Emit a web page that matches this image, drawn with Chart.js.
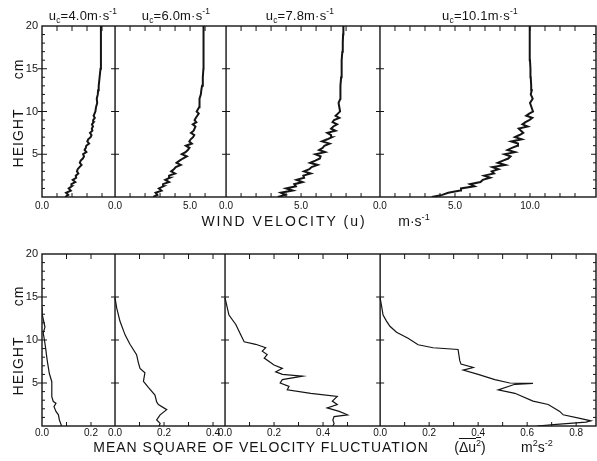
<!DOCTYPE html>
<html>
<head>
<meta charset="utf-8">
<script src="https://cdn.jsdelivr.net/npm/chart.js@4.4.1/dist/chart.umd.min.js"></script>
<style>
  html, body { margin: 0; padding: 0; background: #fff; }
  #wrap { position: relative; width: 597px; height: 461px; overflow: hidden;
          font-family: "Liberation Sans", Arial, sans-serif; color: #141414; }
  canvas { position: absolute; left: 0; }
  #topChart { top: 0; }
  #botChart { top: 230px; }
  .lbl { position: absolute; white-space: nowrap; line-height: 1; transform: translate(-50%, -50%); }
  .rot { transform: translate(-50%, -50%) rotate(-90deg); }
  .uc { font-size: 13px; letter-spacing: 0.2px; }
  .ttl { font-size: 14px; }
  .side { font-size: 14px; letter-spacing: 1px; }
  sub, sup { font-size: 65%; line-height: 0; }
  .ovl { text-decoration: overline; }
</style>
</head>
<body>
<div id="wrap">
  <canvas id="topChart" width="597" height="230"></canvas>
  <canvas id="botChart" width="597" height="231"></canvas>

  <div class="lbl uc" style="left:83px; top:15px;">u<sub>c</sub>=4.0m·s<sup>-1</sup></div>
  <div class="lbl uc" style="left:176px; top:15px;">u<sub>c</sub>=6.0m·s<sup>-1</sup></div>
  <div class="lbl uc" style="left:300px; top:15px;">u<sub>c</sub>=7.8m·s<sup>-1</sup></div>
  <div class="lbl uc" style="left:480px; top:15px;">u<sub>c</sub>=10.1m·s<sup>-1</sup></div>

  <div class="lbl side rot" style="left:18px; top:138px;">HEIGHT</div>
  <div class="lbl side rot" style="left:18px; top:69px;">cm</div>
  <div class="lbl side rot" style="left:18px; top:366px;">HEIGHT</div>
  <div class="lbl side rot" style="left:18px; top:296px;">cm</div>

  <div class="lbl ttl" style="left:284px; top:221px; letter-spacing:2px;">WIND VELOCITY (u)</div>
  <div class="lbl ttl" style="left:414px; top:221px;">m·s<sup>-1</sup></div>
  <div class="lbl ttl" style="left:261px; top:447px; letter-spacing:1px;">MEAN SQUARE OF VELOCITY FLUCTUATION</div>
  <div class="lbl ttl" style="left:470px; top:447px;">(<span class="ovl">Δu<sup>2</sup></span>)</div>
  <div class="lbl ttl" style="left:537px; top:447px;">m<sup>2</sup>s<sup>-2</sup></div>
</div>

<script>
// alturas (cm) dos perfis de velocidade média
const windHeights = [0, 0.25, 0.5, 0.75, 1, 1.25, 1.5, 1.75, 2, 2.25, 2.5, 2.75, 3, 3.25, 3.5, 3.75,
  4, 4.25, 4.5, 4.75, 5, 5.25, 5.5, 5.75, 6, 6.25, 6.5, 6.75, 7, 7.25, 7.5, 7.75, 8, 8.25, 8.5, 8.75,
  9, 9.25, 9.5, 9.75, 10, 10.5, 11, 11.5, 12, 12.5, 13, 14, 15, 16, 17, 18, 19, 20];

// velocidade u (m/s) para cada u_c
const wind40 = [1.55, 1.75, 1.6, 1.92, 1.78, 1.98, 1.96, 2.22, 2.05, 2.28, 2.25, 2.42, 2.33, 2.38, 2.5, 2.64,
  2.52, 2.58, 2.72, 2.8, 2.74, 2.96, 2.84, 2.92, 2.95, 3.14, 3.02, 3.08, 3.24, 3.3, 3.2, 3.36, 3.32, 3.4,
  3.33, 3.44, 3.41, 3.52, 3.44, 3.5, 3.56, 3.6, 3.68, 3.65, 3.72, 3.74, 3.78, 3.84, 3.9, 3.92, 3.93, 3.93, 3.93, 3.93];
const wind60 = [2.55, 2.82, 2.7, 3.1, 2.92, 3.22, 3.2, 3.6, 3.35, 3.66, 3.6, 4.0, 3.74, 3.92, 4.05, 4.38,
  4.1, 4.3, 4.52, 4.78, 4.45, 4.7, 4.85, 4.96, 4.72, 5.12, 4.95, 5.04, 5.2, 5.28, 5.06, 5.24, 5.3, 5.36,
  5.18, 5.42, 5.3, 5.38, 5.48, 5.58, 5.44, 5.6, 5.66, 5.6, 5.72, 5.75, 5.8, 5.85, 5.89, 5.89, 5.9, 5.9, 5.9, 5.9];
const wind78 = [3.45, 3.95, 3.65, 4.45, 4.0, 4.65, 4.55, 5.1, 4.7, 5.2, 5.15, 5.65, 5.2, 5.55, 5.7, 6.1,
  5.6, 5.95, 6.25, 6.3, 5.95, 6.6, 6.2, 6.45, 6.55, 6.9, 6.4, 6.75, 7.05, 7.0, 6.75, 7.3, 7.0, 7.15,
  7.4, 7.1, 7.2, 7.55, 7.3, 7.45, 7.6, 7.55, 7.5, 7.62, 7.6, 7.63, 7.64, 7.67, 7.69, 7.72, 7.75, 7.78, 7.8, 7.82];
const wind101 = [3.45, 4.15, 4.55, 5.35, 5.4, 6.3, 6.0, 6.7, 6.85, 7.35, 6.95, 7.6, 7.45, 7.9, 7.5, 8.35,
  7.85, 8.2, 8.55, 8.7, 8.3, 9.0, 8.5, 8.8, 9.15, 9.2, 8.75, 9.45, 9.0, 9.3, 9.55, 9.4, 9.25, 9.85,
  9.5, 9.7, 9.95, 10.15, 9.75, 9.95, 10.2, 10.1, 10.0, 10.18, 10.05, 10.12, 10.08, 10.05, 10.03, 10.0, 9.99, 9.98, 9.98, 9.98];

// flutuação quadrática média (m2/s2): alturas e valores de cada perfil
const msq40H = [13.8, 13.1, 11.5, 10.8, 10.0, 8.8, 8.1, 7.3, 6.1, 5.15, 4.6, 3.4, 2.85, 2.65, 2.25, 1.7, 1.3, 0.7, 0.3, 0];
const msq40 = [0, 0, 0.012, 0.005, 0.01, 0.016, 0.019, 0.023, 0.03, 0.04, 0.04, 0.04, 0.046, 0.057, 0.049, 0.057, 0.067, 0.071, 0.076, 0.08];
const msq60H = [14.9, 13.7, 12.2, 10.6, 9.5, 8.3, 7.4, 6.7, 6.2, 5.2, 4.5, 3.6, 2.8, 2.5, 1.9, 1.3, 0.7, 0.3, 0];
const msq60 = [0, 0.007, 0.02, 0.041, 0.061, 0.088, 0.095, 0.102, 0.122, 0.116, 0.136, 0.163, 0.17, 0.177, 0.211, 0.184, 0.17, 0.184, 0.18];
const msq78H = [14.9, 12.9, 11.8, 10.6, 9.8, 9.5, 9.1, 8.7, 8.3, 7.9, 7.1, 6.7, 6.3, 6.0, 5.8, 5.4, 5.0, 4.6, 4.2,
  3.8, 3.45, 2.9, 2.5, 2.1, 1.7, 1.3, 1.1, 0.7, 0.3, 0];
const msq78 = [0, 0.016, 0.044, 0.064, 0.078, 0.125, 0.166, 0.152, 0.172, 0.16, 0.2, 0.234, 0.207, 0.234, 0.316, 0.234,
  0.225, 0.261, 0.254, 0.35, 0.458, 0.438, 0.458, 0.417, 0.466, 0.5, 0.445, 0.44, 0.445, 0.44];
const msq101H = [14.9, 14.1, 12.9, 12.2, 11.6, 10.9, 10.2, 9.45, 9.1, 8.9, 7.6, 7.2, 6.8, 6.5, 6.0, 5.4, 5.0, 4.95,
  4.85, 4.2, 3.8, 2.9, 2.5, 1.7, 1.3, 0.85, 0.6, 0.45, 0.2, 0];
const msq101 = [0, 0.005, 0.012, 0.026, 0.04, 0.067, 0.114, 0.155, 0.216, 0.318, 0.325, 0.33, 0.38, 0.339, 0.4, 0.468,
  0.529, 0.624, 0.55, 0.482, 0.55, 0.624, 0.686, 0.733, 0.747, 0.82, 0.86, 0.84, 0.72, 0.64];

// rótulos do eixo x (valores locais de cada painel)
const windTicks = [[0], [0, 5], [0, 5], [0, 5, 10]];
const msqTicks = [[0, 0.2], [0, 0.2, 0.4], [0, 0.2, 0.4], [0, 0.2, 0.4, 0.6, 0.8]];

// início de cada painel no eixo contínuo
const windStarts = [0, 4.87, 12.27, 22.53];
const msqStarts = [0, 0.298, 0.747, 1.38];

const FONT = "'Liberation Sans', Arial, sans-serif";
const INK = '#141414';

// moldura, divisórias e marcas internas
const frameTicks = {
  id: 'frameTicks',
  afterDatasetsDraw(chart, args, o) {
    const { ctx, chartArea: a } = chart;
    const x = chart.scales.x, y = chart.scales.y;
    const seg = (x1, y1, x2, y2) => { ctx.beginPath(); ctx.moveTo(x1, y1); ctx.lineTo(x2, y2); ctx.stroke(); };
    ctx.save();
    ctx.strokeStyle = INK;
    ctx.lineWidth = 1.4;
    ctx.strokeRect(a.left, a.top, a.right - a.left, a.bottom - a.top);
    o.starts.forEach((s, i) => {
      const px = x.getPixelForValue(s);
      ctx.lineWidth = 1.4;
      if (i > 0) seg(px, a.top, px, a.bottom);
      const end = i < o.starts.length - 1 ? o.starts[i + 1] : x.max;
      ctx.lineWidth = 1;
      for (let k = 1; s + k * o.step < end - o.step * 0.4; k++) {
        const tx = x.getPixelForValue(s + k * o.step);
        seg(tx, a.top, tx, a.top + 5);
        seg(tx, a.bottom, tx, a.bottom - 4);
      }
    });
    ctx.lineWidth = 1;
    for (let h = 1; h < 20; h++) {
      const py = y.getPixelForValue(h);
      const major = h % 5 === 0;
      seg(a.left - (major ? 4 : 0), py, a.left + (major ? 5 : 3), py);
      seg(a.right - (major ? 5 : 3), py, a.right, py);
      if (major) {
        o.starts.slice(1).forEach(s => {
          const px = x.getPixelForValue(s);
          seg(px - 4, py, px + 4, py);
        });
      }
    }
    ctx.restore();
  }
};

function makeChart(id, cfg) {
  const tickVals = [], tickText = [];
  cfg.ticks.forEach((list, p) => list.forEach(v => {
    tickVals.push(cfg.starts[p] + v);
    tickText.push(v.toFixed(1));
  }));

  return new Chart(document.getElementById(id), {
    type: 'line',
    data: {
      datasets: cfg.series.map((s, p) => ({
        data: s.h.map((h, i) => ({ x: cfg.starts[p] + s.v[i], y: h })),
        borderColor: INK,
        borderWidth: cfg.lineWidth,
        pointRadius: 0,
        tension: 0,
        fill: false
      }))
    },
    options: {
      responsive: false,
      animation: false,
      events: [],
      layout: { padding: { top: cfg.padTop, right: 1, left: 0, bottom: 0 } },
      plugins: {
        legend: { display: false },
        tooltip: { enabled: false },
        frameTicks: { starts: cfg.starts, step: cfg.step }
      },
      scales: {
        x: {
          type: 'linear', min: 0, max: cfg.xMax,
          grid: { display: false, drawTicks: false }, border: { display: false },
          afterBuildTicks: s => { s.ticks = tickVals.map(v => ({ value: v })); },
          afterFit: s => { s.height = cfg.xHeight; },
          ticks: {
            autoSkip: false, maxRotation: 0, padding: cfg.tickPad, color: INK,
            font: { family: FONT, size: 10 },
            callback: (v, i) => tickText[i]
          }
        },
        y: {
          type: 'linear', min: 0, max: 20,
          grid: { display: false, drawTicks: false }, border: { display: false },
          afterFit: s => { s.width = 42; },
          ticks: {
            stepSize: 5, padding: 4, color: INK,
            font: { family: FONT, size: 11 },
            callback: v => v === 0 ? '' : v
          }
        }
      }
    },
    plugins: [frameTicks]
  });
}

makeChart('topChart', {
  series: [
    { h: windHeights, v: wind40 },
    { h: windHeights, v: wind60 },
    { h: windHeights, v: wind78 },
    { h: windHeights, v: wind101 }
  ],
  starts: windStarts, ticks: windTicks, step: 1, xMax: 36.93,
  padTop: 26, xHeight: 33, tickPad: 3, lineWidth: 2
});

makeChart('botChart', {
  series: [
    { h: msq40H, v: msq40 },
    { h: msq60H, v: msq60 },
    { h: msq78H, v: msq78 },
    { h: msq101H, v: msq101 }
  ],
  starts: msqStarts, ticks: msqTicks, step: 0.1, xMax: 2.261,
  padTop: 24, xHeight: 35, tickPad: 1, lineWidth: 1.2
});
</script>
</body>
</html>
